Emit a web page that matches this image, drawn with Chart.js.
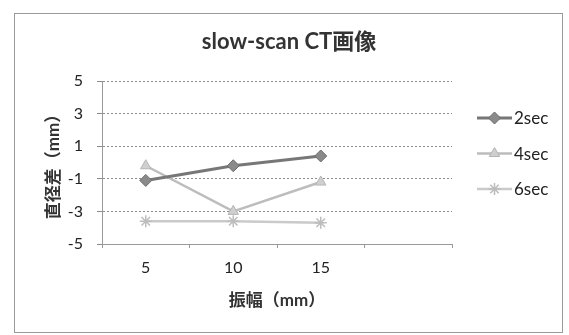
<!DOCTYPE html>
<html>
<head>
<meta charset="utf-8">
<script src="https://cdn.jsdelivr.net/npm/chart.js@4.4.1/dist/chart.umd.min.js"></script>
<style>
  html, body { margin: 0; padding: 0; background: #fff; }
  #wrap { width: 569px; height: 335px; position: relative; }
</style>
</head>
<body>
<div id="wrap"><canvas id="c" width="569" height="335"></canvas></div>
<script>
// Amplitude categories (the fourth slot is left empty on the axis)
const categories = ['5', '10', '15', ''];
// Diameter difference (mm) per scan time
const series2sec = [-1.1, -0.2, 0.4];
const series4sec = [-0.2, -3.0, -1.2];
const series6sec = [-3.6, -3.6, -3.7];
const seriesNames = ['2sec', '4sec', '6sec'];
const yTicks = [-5, -3, -1, 1, 3, 5];

const chartTitle = 'slow-scan CT画像';
const yTitle = '直径差（mm）';
const xTitle = '振幅（mm）';

const FONT = 'Lato, "Noto Sans CJK JP", sans-serif';

// Outer frame, centred title and a line+marker legend on the right
const decorations = {
  id: 'decorations',
  beforeDraw(chart) {
    const ctx = chart.ctx;
    ctx.save();
    ctx.fillStyle = '#fff';
    ctx.fillRect(0, 0, chart.width, chart.height);
    ctx.strokeStyle = '#9a9a9a';
    ctx.lineWidth = 1;
    ctx.strokeRect(14.5, 13.5, 548, 319);
    ctx.restore();
  },
  afterDraw(chart) {
    const ctx = chart.ctx;
    ctx.save();
    ctx.fillStyle = '#333';
    ctx.font = 'bold 22px ' + FONT;
    ctx.textAlign = 'center';
    ctx.textBaseline = 'middle';
    ctx.fillText(chartTitle, 289, 42);

    chart.data.datasets.forEach((ds, i) => {
      const y = 118 + i * 35.5;
      ctx.strokeStyle = ds.borderColor;
      ctx.lineWidth = ds.borderWidth;
      ctx.beginPath();
      ctx.moveTo(477, y);
      ctx.lineTo(512, y);
      ctx.stroke();
      ctx.fillStyle = ds.pointBackgroundColor;
      ctx.strokeStyle = ds.pointBorderColor;
      ctx.lineWidth = ds.pointBorderWidth;
      Chart.helpers.drawPoint(ctx, {
        pointStyle: ds.pointStyle,
        radius: ds.pointRadius,
        rotation: 0,
        borderWidth: ds.pointBorderWidth
      }, 494.5, y);
      ctx.fillStyle = '#222';
      ctx.font = '17px ' + FONT;
      ctx.textAlign = 'left';
      ctx.fillText(ds.label, 514, y + 1);
    });
    ctx.restore();
  }
};

new Chart(document.getElementById('c'), {
  type: 'line',
  data: {
    labels: categories,
    datasets: [
      {
        label: seriesNames[0], data: series2sec,
        borderColor: '#777', borderWidth: 3,
        pointStyle: 'rectRot', pointRadius: 6,
        pointBackgroundColor: '#8a8a8a', pointBorderColor: '#6e6e6e', pointBorderWidth: 1
      },
      {
        label: seriesNames[1], data: series4sec,
        borderColor: '#bdbdbd', borderWidth: 2.5,
        pointStyle: 'triangle', pointRadius: 6,
        pointBackgroundColor: '#cfcfcf', pointBorderColor: '#b5b5b5', pointBorderWidth: 1
      },
      {
        label: seriesNames[2], data: series6sec,
        borderColor: '#cacaca', borderWidth: 2.5,
        pointStyle: 'star', pointRadius: 6,
        pointBackgroundColor: '#cccccc', pointBorderColor: '#bdbdbd', pointBorderWidth: 1.5
      }
    ]
  },
  options: {
    responsive: false,
    animation: false,
    devicePixelRatio: 1,
    layout: { padding: { left: 14, right: 117, top: 81, bottom: 0 } },
    plugins: {
      legend: { display: false },
      title: { display: false },
      tooltip: { enabled: false }
    },
    elements: { line: { tension: 0 } },
    scales: {
      x: {
        type: 'category',
        offset: true,
        afterFit(scale) { scale.height = 91; },
        grid: {
          offset: true,
          drawOnChartArea: false,
          drawTicks: true,
          tickLength: 4,
          color: '#999'
        },
        border: { display: true, color: '#999', width: 1 },
        ticks: { color: '#222', font: { family: FONT, size: 16 }, padding: 10, maxRotation: 0 },
        title: {
          display: true, text: xTitle, color: '#333',
          font: { family: FONT, size: 17, weight: 'bold' },
          padding: { top: 0, bottom: 24 }
        }
      },
      y: {
        min: -5, max: 5,
        afterFit(scale) { scale.width = 88; },
        afterBuildTicks(scale) { scale.ticks = yTicks.map(v => ({ value: v })); },
        grid: {
          color: '#8c8c8c',
          lineWidth: 1,
          tickLength: 5,
          tickColor: '#8c8c8c',
          tickBorderDash: []
        },
        // dotted horizontal gridlines
        border: { display: true, color: '#999', dash: [2, 2], width: 1 },
        ticks: { color: '#222', font: { family: FONT, size: 16 }, padding: 14, autoSkip: false },
        title: {
          display: true, text: yTitle, color: '#333',
          font: { family: FONT, size: 17, weight: 'bold' },
          padding: { top: 29, bottom: 0 }
        }
      }
    }
  },
  plugins: [decorations]
});
</script>
</body>
</html>
